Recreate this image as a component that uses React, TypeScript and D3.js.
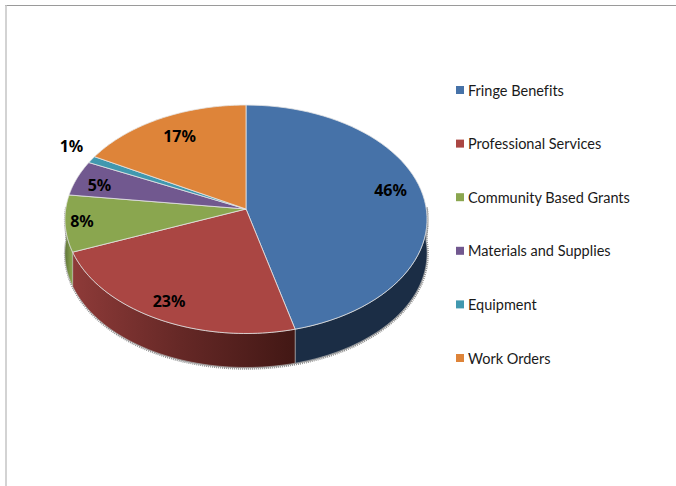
import React from "react";
import * as d3 from "d3";

// Budget shares by expense category, in percent.
const categories = [
  "Fringe Benefits",
  "Professional Services",
  "Community Based Grants",
  "Materials and Supplies",
  "Equipment",
  "Work Orders",
];
const shares = [46, 23, 8, 5, 1, 17];
const topColors = ["#4672A8", "#AA4643", "#8AA64F", "#71588F", "#4198AF", "#DE8439"];
const sideColors = ["#1B2D45", "#7D3230", "#62783A", "#4F3D66", "#2E6C7D", "#A5622B"];

const WIDTH = 676;
const HEIGHT = 486;

// Tilted-disc projection: the rim is an ellipse whose centre sits below the
// point where the slices meet, as in a perspective view.
const APEX_X = 246;
const APEX_Y = 209;
const RX = 180.3;
const RY = 113.3;
const TILT = -0.0898;
const DEPTH = 34;

const project = (angle: number): [number, number] => {
  const u = Math.sin(angle);
  const v = -Math.cos(angle);
  const w = 1 + TILT * v;
  return [APEX_X + (RX * u) / w, APEX_Y + (RY * v) / w];
};

const line = d3.line<[number, number]>();

const sampleRim = (a0: number, a1: number): [number, number][] =>
  d3.range(0, 61).map((i) => project(a0 + ((a1 - a0) * i) / 60));

const arcs = d3.pie<number>().sort(null)(shares);

// Near edge of the disc runs from the right extreme round to the left extreme.
const SIDE_START = Math.PI / 2 - 0.02;
const SIDE_END = (Math.PI * 3) / 2 + 0.02;

const sideWall = (a0: number, a1: number): string => {
  const rim = sampleRim(a0, a1);
  const lower = rim.slice().reverse().map(([x, y]): [number, number] => [x, y + DEPTH]);
  return (line(rim.concat(lower)) as string) + "Z";
};

const percentLabels = [
  { text: "46%", x: 390.5, y: 189.5 },
  { text: "23%", x: 169, y: 301 },
  { text: "8%", x: 82, y: 220.5 },
  { text: "5%", x: 99.5, y: 184.5 },
  { text: "1%", x: 71.5, y: 146 },
  { text: "17%", x: 179.5, y: 136 },
];

const legendY = d3.scalePoint<string>().domain(categories).range([90, 358]);

export default function App() {
  return (
    <svg
      width={WIDTH}
      height={HEIGHT}
      viewBox={`0 0 ${WIDTH} ${HEIGHT}`}
      style={{ position: "absolute", left: 0, top: 0, background: "#fff" }}
    >
      <defs>
        <linearGradient id="sideRed" gradientUnits="userSpaceOnUse" x1="70" y1="0" x2="292" y2="0">
          <stop offset="0" stopColor="#8F3B39" />
          <stop offset="0.5" stopColor="#652826" />
          <stop offset="1" stopColor="#431815" />
        </linearGradient>
        <linearGradient id="sideGreen" gradientUnits="userSpaceOnUse" x1="65" y1="0" x2="72" y2="0">
          <stop offset="0" stopColor="#5F7438" />
          <stop offset="1" stopColor="#8AA64F" />
        </linearGradient>
        <filter id="rimShadow" x="-10%" y="-10%" width="120%" height="120%">
          <feGaussianBlur stdDeviation="0.45" />
        </filter>
      </defs>

      {/* Frame on the top and left edges */}
      <line x1={5} y1={5.5} x2={676} y2={5.5} stroke="#9a9a9a" strokeWidth={1} />
      <line x1={6} y1={5} x2={6} y2={486} stroke="#c4c4c4" strokeWidth={1.5} />

      {/* Speckled grey fringe under the wall of the disc */}
      <path
        d={sideWall(SIDE_START, SIDE_END)}
        transform="translate(0.4,0.8)"
        fill="#8a8a8a"
        stroke="#8f8f8f"
        strokeWidth={3}
        strokeDasharray="1 1"
        filter="url(#rimShadow)"
      />

      {/* Wall of the disc, only where it faces the viewer */}
      {arcs.map((a, i) => {
        const a0 = Math.max(a.startAngle, SIDE_START);
        const a1 = Math.min(a.endAngle, SIDE_END);
        if (a1 <= a0) return null;
        const fill = i === 1 ? "url(#sideRed)" : i === 2 ? "url(#sideGreen)" : sideColors[i];
        return (
          <path
            key={categories[i]}
            d={sideWall(a0, a1)}
            fill={fill}
            stroke="#c8c8c8"
            strokeWidth={0.5}
          />
        );
      })}

      {/* Top face */}
      {arcs.map((a, i) => (
        <path
          key={categories[i]}
          d={
            (line(
              ([[APEX_X, APEX_Y]] as [number, number][]).concat(
                sampleRim(a.startAngle, a.endAngle)
              )
            ) as string) + "Z"
          }
          fill={topColors[i]}
          stroke="#e4e4e4"
          strokeWidth={0.8}
          strokeLinejoin="round"
        />
      ))}

      {/* Percentage labels */}
      {percentLabels.map((l) => (
        <text
          key={l.text}
          x={l.x}
          y={l.y}
          textAnchor="middle"
          dominantBaseline="central"
          fontFamily="'Noto Sans', 'Open Sans', sans-serif"
          fontWeight={700}
          fontSize={16}
          fill="#000"
        >
          {l.text}
        </text>
      ))}

      {/* Legend */}
      {categories.map((c, i) => {
        const y = legendY(c) as number;
        return (
          <g key={c}>
            <rect x={456} y={y - 4} width={8} height={8} fill={topColors[i]} />
            <text
              x={468}
              y={y}
              dominantBaseline="central"
              fontFamily="Lato, 'Open Sans', sans-serif"
              fontSize={14.5}
              fill="#1a1a1a"
              style={{ fontVariantLigatures: "none" }}
            >
              {c}
            </text>
          </g>
        );
      })}
    </svg>
  );
}
